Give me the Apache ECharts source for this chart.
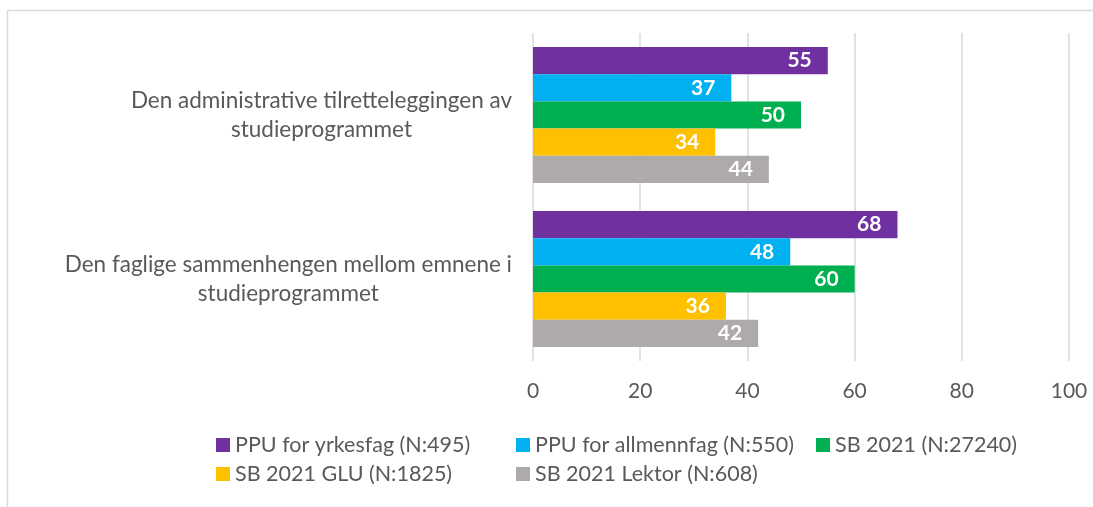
<!DOCTYPE html>
<html>
<head>
<meta charset="utf-8">
<script src="https://cdn.jsdelivr.net/npm/echarts@6/dist/echarts.min.js"></script>
<style>
  html, body { margin: 0; padding: 0; background: #fff; }
  #chart { width: 1093px; height: 507px; }
</style>
</head>
<body>
<div id="chart"></div>
<script>
var categories = [
  'Den administrative tilretteleggingen av studieprogrammet',
  'Den faglige sammenhengen mellom emnene i studieprogrammet'
];
var seriesNames = [
  'PPU for yrkesfag (N:495)',
  'PPU for allmennfag (N:550)',
  'SB 2021 (N:27240)',
  'SB 2021 GLU (N:1825)',
  'SB 2021 Lektor (N:608)'
];
var ppuYrkesfag = [55, 68];
var ppuAllmennfag = [37, 48];
var sb2021 = [50, 60];
var sb2021Glu = [34, 36];
var sb2021Lektor = [44, 42];
var xTicks = [0, 20, 40, 60, 80, 100];

var colors = ['#7030A0', '#00B0F0', '#00B050', '#FFC000', '#AEAAAA'];
var values = [ppuYrkesfag, ppuAllmennfag, sb2021, sb2021Glu, sb2021Lektor];
var font = 'Lato';
var textColor = '#595959';

var myChart = echarts.init(document.getElementById('chart'));

// legend positions, one legend per item so the columns line up like the original
var legendPos = [[216, 434], [516, 434], [816, 434], [216, 463], [516, 463]];
var legends = seriesNames.map(function (name, i) {
  return {
    data: [name],
    left: legendPos[i][0],
    top: legendPos[i][1],
    padding: 0,
    icon: 'rect',
    itemWidth: 14,
    itemHeight: 14,
    textStyle: { color: textColor, fontSize: 21.5, fontFamily: font }
  };
});

var option = {
  backgroundColor: '#fff',
  animation: false,
  color: colors,
  graphic: [{
    type: 'rect',
    shape: { x: 7.5, y: 10.5, width: 1200, height: 600 },
    style: { fill: 'none', stroke: '#D9D9D9', lineWidth: 1.5 },
    silent: true
  }],
  legend: legends,
  grid: { left: 533, right: 24, top: 33, bottom: 146 },
  xAxis: {
    type: 'value',
    min: 0,
    max: 100,
    interval: 20,
    axisLine: { show: false },
    axisTick: { show: false },
    splitLine: { lineStyle: { color: '#D9D9D9', width: 1.5 } },
    axisLabel: {
      margin: 20,
      color: textColor,
      fontSize: 21,
      fontFamily: font,
      formatter: function (v) { return xTicks.indexOf(v) >= 0 ? String(v) : ''; }
    }
  },
  yAxis: {
    type: 'category',
    data: categories,
    inverse: true,
    axisLine: { show: false },
    axisTick: { show: false },
    axisLabel: {
      margin: 21,
      align: 'right',
      formatter: function (v) {
        var idx = v.lastIndexOf(' ');
        return '{c|' + v.slice(0, idx) + '}\n{c|' + v.slice(idx + 1) + '}';
      },
      rich: {
        c: { align: 'center', color: textColor, fontSize: 22.5, fontFamily: font, lineHeight: 29 }
      }
    }
  },
  series: seriesNames.map(function (name, i) {
    return {
      name: name,
      type: 'bar',
      data: values[i],
      barGap: '0%',
      barCategoryGap: '17%',
      label: {
        show: true,
        position: 'insideRight',
        distance: 16,
        color: '#fff',
        fontWeight: 'bold',
        fontSize: 21,
        fontFamily: font
      }
    };
  })
};

myChart.setOption(option);
</script>
</body>
</html>
